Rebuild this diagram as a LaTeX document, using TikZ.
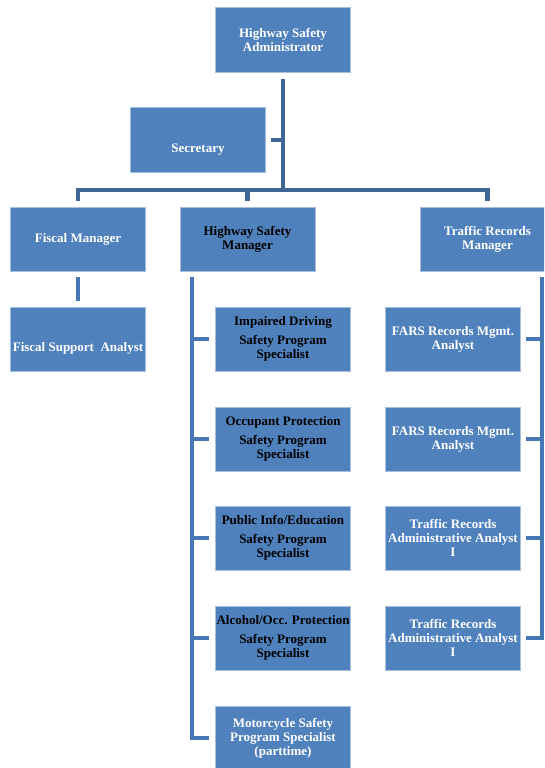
\documentclass[tikz,border=0pt]{standalone}
\usepackage{fontspec}
\setmainfont{Liberation Serif}
\definecolor{boxblue}{HTML}{4F81BD}
\definecolor{boxedge}{HTML}{A7BFDE}
\definecolor{linedark}{HTML}{3E6795}
\definecolor{linemid}{HTML}{4878B3}
\begin{document}
\begin{tikzpicture}[x=1pt,y=-1pt,
  box/.style={rectangle, fill=boxblue, draw=boxedge, line width=0.6pt,
    minimum width=135pt, minimum height=64pt, inner sep=0pt, align=center,
    font=\fontsize{13}{14}\selectfont\bfseries, text=white},
  darktext/.style={text=black},
  conn/.style={line width=4.5pt, draw=linemid},
  topconn/.style={line width=4.5pt, draw=linedark, line join=miter}]
\useasboundingbox (0,0) rectangle (544,768);
\clip (0,0) rectangle (544,768);

% top level
\node[box, minimum height=65pt] (hsa) at (283,40) {Highway Safety\\Administrator};
\node[box, minimum height=65pt] (sec) at (198,140) {\rule{0pt}{27pt}Secretary};

% second level
\node[box] (fm)  at (78,239)    {Fiscal Manager};
\node[box, darktext] (hsm) at (247.5,239) {Highway Safety\\Manager};
\node[box] (trm) at (487.5,239) {Traffic Records\\Manager};

% fiscal
\node[box] (fsa) at (78,339) {\rule{0pt}{27pt}Fiscal Support\ \ Analyst};

% highway safety column
\node[box, darktext] (m1) at (283,339) {Impaired Driving\\[5pt]Safety Program\\Specialist};
\node[box, darktext] (m2) at (283,439) {Occupant Protection\\[5pt]Safety Program\\Specialist};
\node[box, darktext] (m3) at (283,538) {Public Info/Education\\[5pt]Safety Program\\Specialist};
\node[box, darktext] (m4) at (283,638) {Alcohol/Occ. Protection\\[5pt]Safety Program\\Specialist};
\node[box] (m5) at (283,738) {Motorcycle Safety\\Program Specialist\\(parttime)};

% traffic records column
\node[box] (r1) at (453,339) {FARS Records Mgmt.\\Analyst};
\node[box] (r2) at (453,439) {FARS Records Mgmt.\\Analyst};
\node[box] (r3) at (453,538) {Traffic Records\\Administrative Analyst\\I};
\node[box] (r4) at (453,638) {Traffic Records\\Administrative Analyst\\I};

% top connectors
\coordinate (bus) at (283,190);
\draw[topconn] ([yshift=-6pt]hsa.south) -- (bus);
\draw[topconn] ([xshift=5pt]sec.east) -- (sec.east -| hsa.south);
\draw[topconn] ([yshift=6pt]fm.north) |- (bus) -| ([yshift=6pt]trm.north);
\draw[topconn] ([yshift=6pt]hsm.north) -- (hsm.north |- bus);

% fiscal connector
\draw[conn] ([yshift=-6pt]fm.south) -- ([yshift=6pt]fsa.north);

% middle column connectors
\coordinate (mtop) at (192,277);
\draw[conn, line join=miter] (mtop) |- ([xshift=-6pt]m5.west);
\foreach \n in {m1,m2,m3,m4}
  \draw[conn] (\n.west -| mtop) -- ([xshift=-6pt]\n.west);

% right column connectors
\coordinate (rtop) at (542,277);
\draw[conn, line join=miter] (rtop) |- ([xshift=5pt]r4.east);
\foreach \n in {r1,r2,r3}
  \draw[conn] (\n.east -| rtop) -- ([xshift=5pt]\n.east);
\end{tikzpicture}
\end{document}
